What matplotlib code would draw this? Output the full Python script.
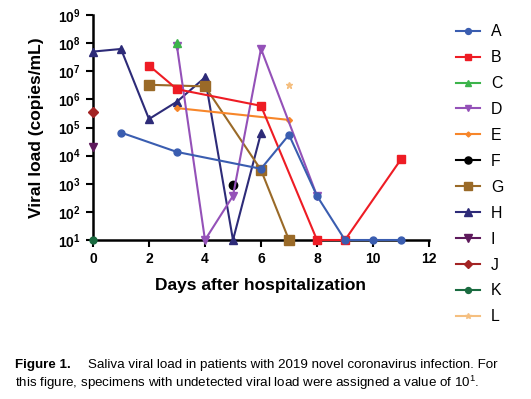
import numpy as np
import matplotlib.pyplot as plt
from matplotlib.lines import Line2D

plt.rcParams['font.family'] = ['Liberation Sans', 'DejaVu Sans']
plt.rcParams['mathtext.fontset'] = 'custom'
plt.rcParams['mathtext.rm'] = 'Liberation Sans'
plt.rcParams['mathtext.bf'] = 'Liberation Sans:bold'

# patient series: days after hospitalization, viral load (copies/mL)
days_A = [1, 3, 6, 7, 8, 9, 10, 11]
load_A = [6.6e4, 1.35e4, 3.4e3, 5.5e4, 370, 10, 10, 10]
days_B = [2, 3, 6, 8, 9, 11]
load_B = [1.6e7, 2.3e6, 5.9e5, 10, 10, 7.4e3]
days_C = [3]
load_C = [1.05e8]
days_D = [3, 4, 5, 6, 8]
load_D = [7.6e7, 10, 370, 6.3e7, 370]
days_E = [3, 7]
load_E = [4.9e5, 1.86e5]
days_F = [5]
load_F = [900]
days_G = [2, 4, 6, 7]
load_G = [3.3e6, 2.9e6, 3.1e3, 10]
days_H = [0, 1, 2, 3, 4, 5, 6]
load_H = [5e7, 6.2e7, 2e5, 8.3e5, 6e6, 10, 6.3e4]
days_I = [0]
load_I = [2.1e4]
days_J = [0]
load_J = [3.5e5]
days_K = [0]
load_K = [10]
days_L = [7]
load_L = [3.3e6]

series = [
    ('A', days_A, load_A, '#3a5db0', 'o', 5),
    ('B', days_B, load_B, '#ee1c24', 's', 5.5),
    ('C', days_C, load_C, '#3cb44b', '^', 5.5),
    ('D', days_D, load_D, '#9451b8', 'v', 5.5),
    ('E', days_E, load_E, '#f7862a', 'D', 3),
    ('F', days_F, load_F, '#000000', 'o', 6),
    ('G', days_G, load_G, '#9a6a28', 's', 7),
    ('H', days_H, load_H, '#2d2b78', '^', 6),
    ('I', days_I, load_I, '#5e1a5c', 'v', 6),
    ('J', days_J, load_J, '#a32424', 'D', 5),
    ('K', days_K, load_K, '#1a6b40', 'o', 5),
    ('L', days_L, load_L, '#f5bf80', '*', 5),
]

fig = plt.figure(figsize=(5.31, 3.99), dpi=100)
ax = fig.add_axes([0.1751, 0.3985, 0.6328, 0.5639])

handles = []
n = len(series)
for i, (name, d, v, c, m, ms) in enumerate(series):
    # first patient drawn on top
    ax.plot(d, v, color=c, marker=m, markersize=ms, lw=1.5, clip_on=False, zorder=3 + n - i)
    handles.append(Line2D([], [], color=c, marker=m, markersize=ms * 0.85, lw=1.5))

ax.set_yscale('log')
ax.set_ylim(10, 1e9)
ax.set_xlim(0, 12)
ax.set_yticks([10 ** k for k in range(1, 10)])
ax.set_yticklabels([r'$\mathbf{10^{%d}}$' % k for k in range(1, 10)])
ax.minorticks_off()
ax.set_xticks(range(0, 13, 2))
for lab in ax.get_xticklabels():
    lab.set_fontweight('bold')
ax.tick_params(labelsize=10, width=1.5, length=5, direction='out', pad=4)
for s in ['top', 'right']:
    ax.spines[s].set_visible(False)
for s in ['left', 'bottom']:
    ax.spines[s].set_linewidth(1.8)

ax.set_xlabel('Days after hospitalization', fontsize=12.5, fontweight='bold', labelpad=8)
ax.set_ylabel('Viral load (copies/mL)', fontsize=12.5, fontweight='bold', labelpad=10)

fig.legend(handles, [s[0] for s in series], loc='upper left',
           bbox_to_anchor=(0.832, 0.975), frameon=False, fontsize=11.4,
           handlelength=1.5, labelspacing=0.69, handletextpad=0.7)

fig.text(0.028, 0.078, 'Figure 1.', fontsize=9.6, fontweight='bold', va='baseline')
fig.text(0.166, 0.078, 'Saliva viral load in patients with 2019 novel coronavirus infection. For',
         fontsize=9.6, va='baseline')
fig.text(0.028, 0.031, 'this figure, specimens with undetected viral load were assigned a value of 10$^1$.',
         fontsize=9.6, va='baseline')

fig.savefig('out.png', dpi=100)
